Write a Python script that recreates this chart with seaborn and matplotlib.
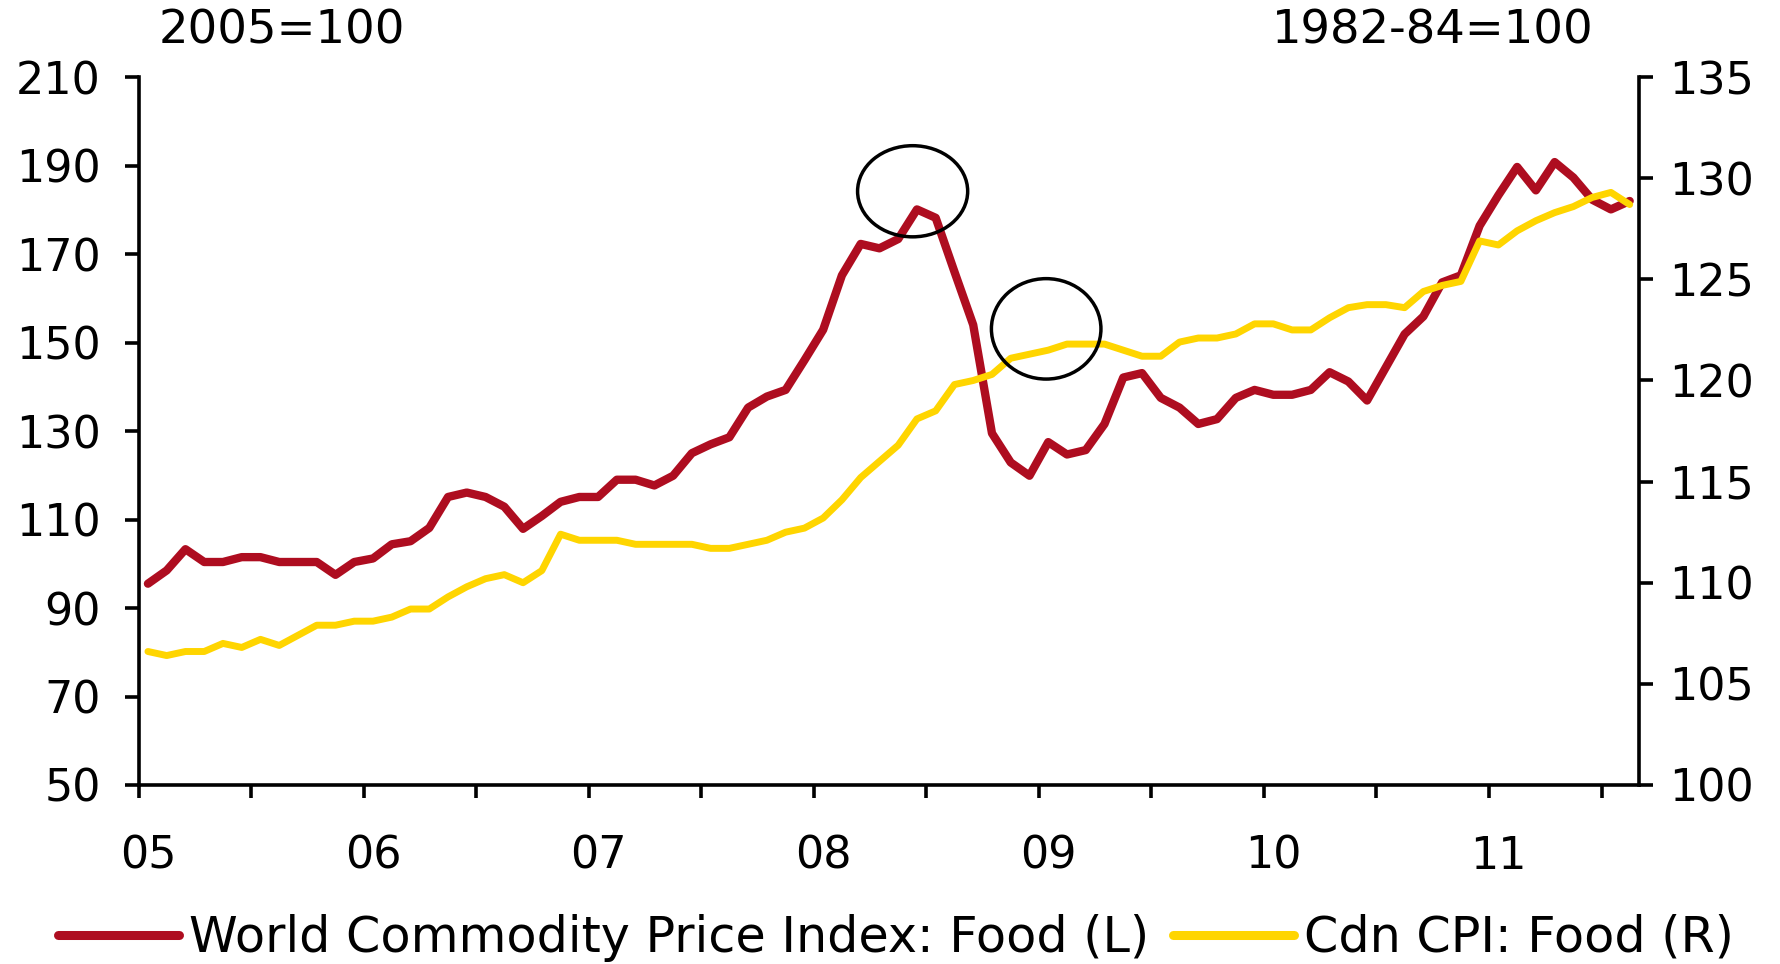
import matplotlib.pyplot as plt
from matplotlib.patches import Ellipse
import numpy as np
import pandas as pd
import seaborn as sns

# Monthly observations, Jan 2005 - Aug 2011
MONTHS = pd.period_range("2005-01", "2011-08", freq="M")

# World Commodity Price Index: Food, 2005=100 (left axis)
WORLD_FOOD = [
    95.5, 98.5, 103.3, 100.4, 100.4, 101.5, 101.5, 100.4, 100.4, 100.4, 97.5, 100.4,
    101.2, 104.4, 105.1, 108.1, 115.1, 116.1, 115.1, 112.9, 107.9, 110.8, 114.0, 115.1,
    115.1, 119.0, 119.0, 117.7, 119.9, 125.0, 127.0, 128.6, 135.3, 137.8, 139.3, 146.0,
    152.9, 165.2, 172.3, 171.3, 173.4, 180.1, 178.2, 166.0, 154.0, 129.5, 122.9, 119.9,
    127.5, 124.7, 125.7, 131.6, 142.1, 143.1, 137.5, 135.3, 131.6, 132.7, 137.5, 139.3,
    138.2, 138.2, 139.3, 143.3, 141.2, 136.9, 144.4, 151.9, 155.9, 163.6, 165.2, 176.4,
    183.3, 189.7, 184.4, 190.8, 187.3, 182.3, 180.1, 182.0,
]

# Canadian CPI: Food, 1982-84=100 (right axis)
CDN_CPI_FOOD = [
    106.6, 106.4, 106.6, 106.6, 107.0, 106.8, 107.2, 106.9, 107.4, 107.9, 107.9, 108.1,
    108.1, 108.3, 108.7, 108.7, 109.3, 109.8, 110.2, 110.4, 110.0, 110.6, 112.4, 112.1,
    112.1, 112.1, 111.9, 111.9, 111.9, 111.9, 111.7, 111.7, 111.9, 112.1, 112.5, 112.7,
    113.2, 114.1, 115.2, 116.0, 116.8, 118.1, 118.5, 119.8, 120.0, 120.3, 121.1, 121.3,
    121.5, 121.8, 121.8, 121.8, 121.5, 121.2, 121.2, 121.9, 122.1, 122.1, 122.3, 122.8,
    122.8, 122.5, 122.5, 123.1, 123.6, 123.75, 123.75, 123.6, 124.4, 124.7, 124.9, 126.9,
    126.7, 127.4, 127.9, 128.3, 128.6, 129.05, 129.3, 128.7,
]

YEAR_LABELS = ["05", "06", "07", "08", "09", "10", "11"]
LEFT_TICKS = list(range(50, 211, 20))
RIGHT_TICKS = list(range(100, 136, 5))

RED = "#AE0D20"
YELLOW = "#FFD500"
FS = 32

sns.set_style("ticks")
plt.rcParams["font.family"] = ["DejaVu Sans"]
plt.rcParams["text.color"] = "black"
plt.rcParams["xtick.color"] = "black"
plt.rcParams["ytick.color"] = "black"

# x position = middle of each month slot
df = pd.DataFrame({
    "month": np.arange(len(MONTHS)) + 0.5,
    "world": WORLD_FOOD,
    "cpi": CDN_CPI_FOOD,
})

fig = plt.figure(figsize=(17.81, 9.64), dpi=100)
ax = fig.add_axes([0.0778, 0.1857, 0.8425, 0.7343])
ax2 = ax.twinx()

sns.lineplot(data=df, x="month", y="world", ax=ax, color=RED, lw=6.0,
             solid_joinstyle="round", solid_capstyle="round", legend=False)
sns.lineplot(data=df, x="month", y="cpi", ax=ax2, color=YELLOW, lw=5,
             solid_joinstyle="round", solid_capstyle="round", legend=False)

# axes limits / ticks
ax.set_xlim(0, len(MONTHS))
ax.set_ylim(50, 210)
ax2.set_ylim(100, 135)
ax.set_yticks(LEFT_TICKS)
ax2.set_yticks(RIGHT_TICKS)
ax.set_xticks(np.arange(0, len(MONTHS) + 1, 6))
ax.set_xticklabels([])
year_pos = df["month"][MONTHS.month == 1].values
ax.set_xticks(year_pos, YEAR_LABELS, minor=True)
ax.set_xlabel("")
ax.set_ylabel("")
ax2.set_ylabel("")

for a in (ax, ax2):
    a.spines["top"].set_visible(False)
    for s in a.spines.values():
        s.set_linewidth(2.6)
        s.set_color("black")
ax2.spines["left"].set_visible(False)
ax2.spines["bottom"].set_visible(False)
ax.spines["right"].set_visible(False)

ax.tick_params(axis="y", direction="out", length=10, width=2.6, labelsize=FS, pad=17,
               colors="black")
ax2.tick_params(axis="y", direction="out", length=10, width=2.6, labelsize=FS, pad=12,
                colors="black")
ax.tick_params(axis="x", which="major", direction="out", length=9, width=2.6, colors="black")
ax.tick_params(axis="x", which="minor", length=0, labelsize=FS, pad=36, colors="black")

# highlight circles
for cx, cy, w, h in [(41.27, 184.2, 5.87, 20.6), (48.39, 153.1, 5.84, 22.7)]:
    ax2.add_patch(Ellipse((cx, cy), w, h, transform=ax.transData, fill=False,
                          edgecolor="black", lw=2.5, zorder=10))

# unit labels
fig.text(0.089, 0.968, "2005=100", fontsize=33.5, ha="left", va="center")
fig.text(0.895, 0.968, "1982-84=100", fontsize=33.5, ha="right", va="center")

handles = [ax.get_lines()[0], ax2.get_lines()[0]]
leg = fig.legend(handles, ["World Commodity Price Index: Food (L)", "Cdn CPI: Food (R)"],
                 loc="center", bbox_to_anchor=(0.503, 0.027), ncol=2, frameon=False,
                 fontsize=35.5, handlelength=2.45, handletextpad=0.2, columnspacing=0.5,
                 borderaxespad=0, borderpad=0)
for h in leg.get_lines():
    h.set_linewidth(6.5)

fig.savefig("out.png", dpi=100)
plt.close(fig)
